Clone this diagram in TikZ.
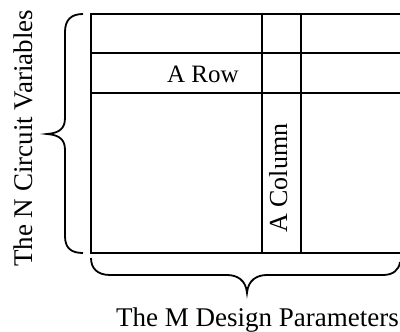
\documentclass[tikz,border=0pt]{standalone}
\usepackage{fontspec}
\setmainfont{Liberation Serif}
\begin{document}
\begin{tikzpicture}[x=1pt,y=-1pt,
  gridline/.style={line width=2pt},
  bracepath/.style={line width=1.8pt},
  lbl/.style={inner sep=0pt,font=\fontsize{26}{30}\selectfont},
  biglbl/.style={inner sep=0pt,font=\fontsize{27}{31}\selectfont}]
\useasboundingbox (0,0) rectangle (400,332);
% grid
\coordinate (tl) at (91,14);
\coordinate (bl) at (91,253);
\draw[gridline] (400,14) -- (tl) -- (bl) -- (400,253);
\draw[gridline] (91,53) -- (400,53);
\draw[gridline] (91,93) -- (400,93);
\draw[gridline] (262,14) -- (262,253);
\draw[gridline] (301,14) -- (301,253);
% left brace
\draw[bracepath] (83,14) .. controls (71,14) and (65,20) .. (65,32) -- (65,118)
  .. controls (65,128) and (60,133) .. (47,134)
  .. controls (60,135) and (65,140) .. (65,150) -- (65,236)
  .. controls (65,248) and (71,253) .. (83,253);
% bottom brace
\draw[bracepath] (91,258) .. controls (91,268) and (97,275) .. (110,275) -- (227,275)
  .. controls (237,275) and (246,280) .. (247,293)
  .. controls (248,280) and (257,275) .. (267,275) -- (383,275)
  .. controls (393,275) and (399,270) .. (400,262);
% labels
\node[lbl,font=\fontsize{25}{29}\selectfont,anchor=base west] (row) at (167,82) {A Row};
\node[lbl,anchor=base west,rotate=90] (col) at (287,233) {A Column};
\node[biglbl,anchor=base west,rotate=90] (nvar) at (33,267) {The N Circuit Variables};
\node[biglbl,anchor=base east] (mpar) at (399,326) {The M Design Parameters};
\end{tikzpicture}
\end{document}
